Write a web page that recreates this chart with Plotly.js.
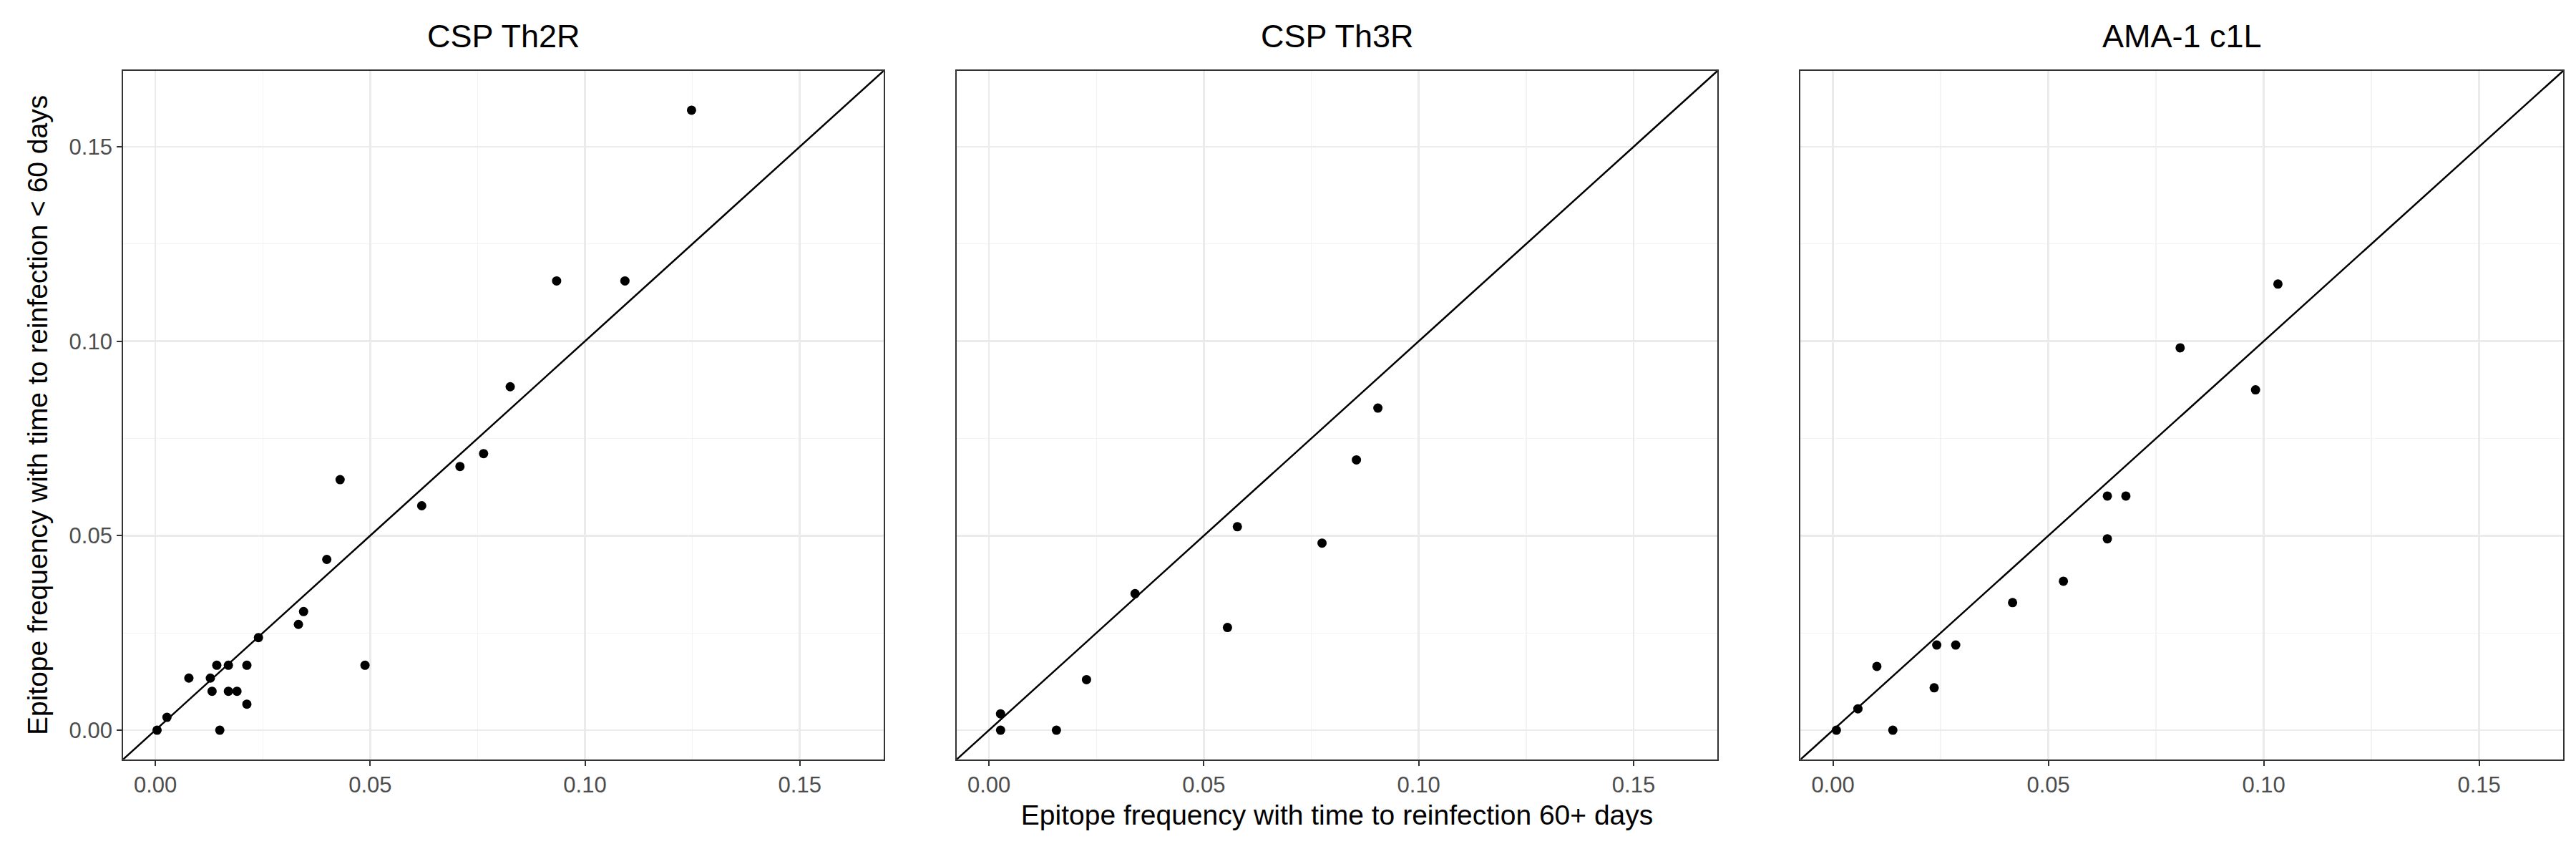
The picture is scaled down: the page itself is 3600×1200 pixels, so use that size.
<!DOCTYPE html>
<html><head><meta charset="utf-8">
<script src="https://cdn.plot.ly/plotly-3.0.1.min.js"></script>
</head><body style="margin:0">
<div id="c" style="width:3600px;height:1200px"></div>
<script>
const panelTitles = ["CSP Th2R", "CSP Th3R", "AMA-1 c1L"];
const th2rX = [0.1248,0.1093,0.0934,0.0826,0.0764,0.0709,0.062,0.043,0.0399,0.0488,0.0345,0.0333,0.024,0.0213,0.0213,0.019,0.017,0.017,0.0143,0.0128,0.0132,0.015,0.0078,0.0027,0.0004];
const th2rY = [0.1594,0.1155,0.1155,0.0883,0.0711,0.0678,0.0577,0.0644,0.0439,0.0167,0.0305,0.0272,0.0238,0.0167,0.0067,0.01,0.01,0.0167,0.0167,0.0134,0.01,0,0.0134,0.0033,0];
const th3rX = [0.0905,0.0855,0.0775,0.0578,0.0555,0.034,0.0227,0.0157,0.0027,0.0027];
const th3rY = [0.0828,0.0695,0.0481,0.0523,0.0264,0.0351,0.013,0,0.0042,0];
const amaX = [0.1033,0.0981,0.0806,0.068,0.0637,0.0637,0.0535,0.0417,0.0285,0.0241,0.0235,0.0139,0.0102,0.0058,0.0008];
const amaY = [0.1147,0.0875,0.0983,0.0602,0.0602,0.0492,0.0383,0.0328,0.0219,0.0219,0.0109,0,0.0164,0.0055,0];
const diag = [-0.02, 0.2];
const tickVals = [0, 0.05, 0.10, 0.15];
const tickText = ["0.00", "0.05", "0.10", "0.15"];

const sets = [[th2rX, th2rY], [th3rX, th3rY], [amaX, amaY]];
const data = [];
const layout = {width:3600, height:1200, margin:{l:0,r:0,t:0,b:0}, showlegend:false,
  paper_bgcolor:'white', plot_bgcolor:'white', font:{family:'Arial, Liberation Sans', color:'#000'}, annotations:[]};
const doms = [[0.0478,0.3430],[0.3714,0.6667],[0.6990,0.9950]];
const rng = [-0.0075, 0.1695];
sets.forEach((s, i) => {
  const sfx = i === 0 ? '' : String(i + 1);
  data.push({x:diag, y:diag, mode:'lines', line:{color:'#000', width:2.5}, xaxis:'x'+sfx, yaxis:'y'+sfx, hoverinfo:'skip'});
  data.push({x:s[0], y:s[1], mode:'markers', marker:{color:'#000', size:13}, xaxis:'x'+sfx, yaxis:'y'+sfx});
  const common = {range:rng, showline:true, mirror:true, linecolor:'#333', linewidth:2, gridcolor:'#ebebeb', gridwidth:2.5,
    zeroline:false, tickvals:tickVals, ticktext:tickText, ticks:'outside', ticklen:7, tickwidth:2, tickcolor:'#333',
    tickfont:{size:31, color:'#4d4d4d'}, minor:{tickvals:[0.025,0.075,0.125], showgrid:true, gridcolor:'#f3f3f3', gridwidth:1.3, ticks:''}};
  layout['xaxis'+sfx] = Object.assign({}, common, {domain:doms[i], anchor:'y'+sfx});
  layout['yaxis'+sfx] = Object.assign({}, common, {domain:[0.116,0.9175], anchor:'x'+sfx});
  if (i > 0) { layout['yaxis'+sfx].showticklabels = false; layout['yaxis'+sfx].ticks = ''; }
  layout.annotations.push({text:panelTitles[i], xref:'paper', yref:'paper', x:(doms[i][0]+doms[i][1])/2, y:0.935,
    xanchor:'center', yanchor:'bottom', showarrow:false, font:{size:45, color:'#000'}});
});
layout.xaxis2.title = {text:'Epitope frequency with time to reinfection 60+ days', font:{size:39}, standoff:12};
layout.yaxis.title = {text:'Epitope frequency with time to reinfection < 60 days', font:{size:39}, standoff:18};
Plotly.newPlot('c', data, layout, {staticPlot:true});
</script></body></html>
